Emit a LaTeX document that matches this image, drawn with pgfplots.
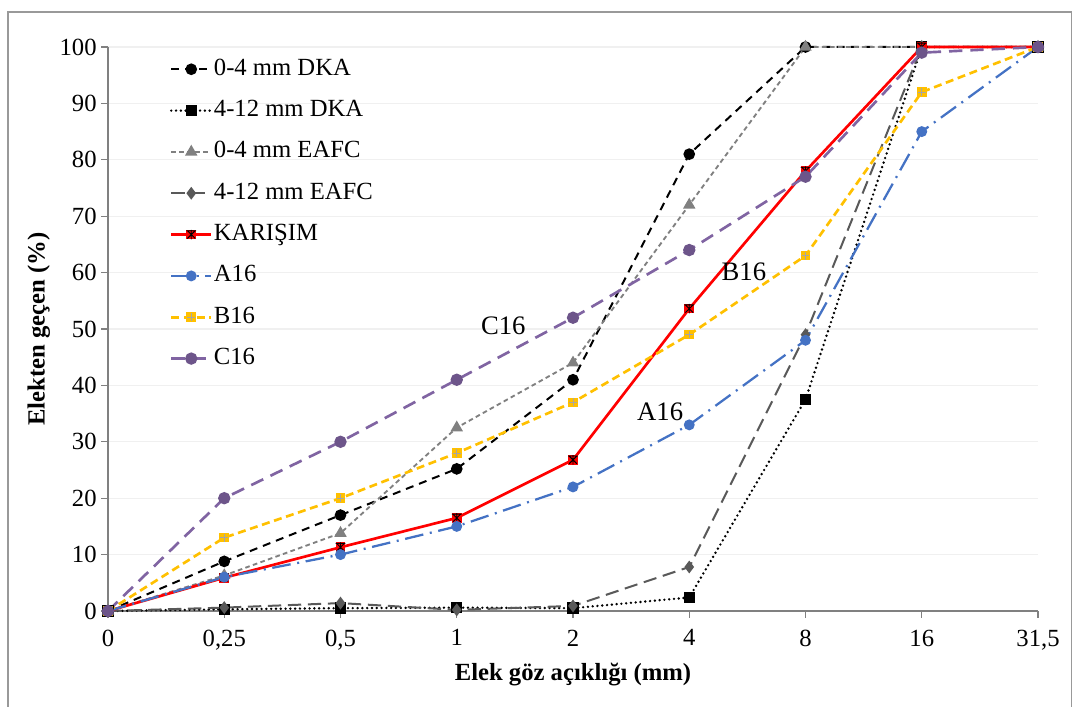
\documentclass[border=0pt]{standalone}
\usepackage{fontspec}
\setmainfont{Liberation Serif}
\usepackage{pgfplots}
\pgfplotsset{compat=1.18}

\definecolor{cblue}{RGB}{68,114,196}
\definecolor{cgold}{RGB}{255,192,0}
\definecolor{cpurple}{RGB}{128,100,162}
\definecolor{cgray}{RGB}{128,128,128}
\definecolor{cdgray}{RGB}{89,89,89}

% red square with a black star (KARISIM)
\pgfdeclareplotmark{sqstar}{%
  \pgfpathrectangle{\pgfqpoint{-\pgfplotmarksize}{-\pgfplotmarksize}}{\pgfqpoint{2\pgfplotmarksize}{2\pgfplotmarksize}}%
  \pgfusepathqfill
  \pgfsetstrokecolor{black}\pgfsetlinewidth{0.7pt}%
  \pgfpathmoveto{\pgfqpoint{-0.8\pgfplotmarksize}{-0.8\pgfplotmarksize}}\pgfpathlineto{\pgfqpoint{0.8\pgfplotmarksize}{0.8\pgfplotmarksize}}%
  \pgfpathmoveto{\pgfqpoint{-0.8\pgfplotmarksize}{0.8\pgfplotmarksize}}\pgfpathlineto{\pgfqpoint{0.8\pgfplotmarksize}{-0.8\pgfplotmarksize}}%
  \pgfpathmoveto{\pgfqpoint{0pt}{-\pgfplotmarksize}}\pgfpathlineto{\pgfqpoint{0pt}{\pgfplotmarksize}}%
  \pgfpathmoveto{\pgfqpoint{-\pgfplotmarksize}{0.8\pgfplotmarksize}}\pgfpathlineto{\pgfqpoint{\pgfplotmarksize}{0.8\pgfplotmarksize}}%
  \pgfusepathqstroke
}
% gold square with a light plus (B16)
\pgfdeclareplotmark{sqplus}{%
  \pgfpathrectangle{\pgfqpoint{-\pgfplotmarksize}{-\pgfplotmarksize}}{\pgfqpoint{2\pgfplotmarksize}{2\pgfplotmarksize}}%
  \pgfusepathqfill
  \pgfsetstrokecolor{gray!70}\pgfsetlinewidth{0.6pt}%
  \pgfpathmoveto{\pgfqpoint{0pt}{-0.8\pgfplotmarksize}}\pgfpathlineto{\pgfqpoint{0pt}{0.8\pgfplotmarksize}}%
  \pgfpathmoveto{\pgfqpoint{-0.8\pgfplotmarksize}{0pt}}\pgfpathlineto{\pgfqpoint{0.8\pgfplotmarksize}{0pt}}%
  \pgfusepathqstroke
}

\begin{document}
\begin{tikzpicture}
\useasboundingbox (-81pt,-71.25pt) rectangle (723.75pt,458.25pt);
\draw[gray!80, line width=0.8pt] (-75pt,-72pt) -- (-75pt,449.25pt) -- (722.5pt,449.25pt) -- (722.5pt,-72pt);
\begin{axis}[
    width=697.5pt, height=423pt, scale only axis,
    xmin=0, xmax=8, ymin=0, ymax=100,
    xtick={0,1,2,3,4,5,6,7,8},
    xticklabels={0,{0,25},{0,5},1,2,4,8,16,{31,5}},
    ytick={0,10,20,30,40,50,60,70,80,90,100},
    axis x line*=bottom, axis y line*=left,
    axis line style={gray, line width=0.8pt, -},
    tick style={gray, line width=0.8pt},
    tick align=outside, major tick length=5pt,
    ymajorgrids, grid style={gray!12, line width=0.8pt},
    tick label style={font=\fontsize{18.5}{20}\selectfont},
    xticklabel style={yshift=-5.5pt},
    /pgf/number format/assume math mode=true,
    xlabel={Elek göz açıklığı (mm)},
    ylabel={Elekten geçen (\%)},
    label style={font=\fontsize{18.5}{20}\selectfont\bfseries},
    xlabel style={at={(axis description cs:0.5,-0.112)}, anchor=center},
    ylabel style={at={(axis description cs:-0.0745,0.5)}, anchor=center},
    clip=false,
    legend cell align=left,
    legend style={draw=none, fill=none, at={(axis description cs:0.062,0.987)}, anchor=north west,
        font=\fontsize{18.5}{20}\selectfont, row sep=13pt,
        nodes={inner sep=1pt, text height=12.5pt, text depth=3.5pt}},
    legend image code/.code={\draw[mark repeat=2,mark phase=2] plot coordinates {(0pt,0pt) (15pt,0pt) (30pt,0pt)};},
]
\addplot[black, line width=1.5pt, dash pattern=on 6pt off 4.5pt, mark=*, mark size=3.6pt, mark options={solid}]
  coordinates {(0,0) (1,8.8) (2,17) (3,25.2) (4,41) (5,81) (6,100) (7,100) (8,100)};
\addlegendentry{0-4 mm DKA}
\addplot[black, line width=2pt, line cap=round, dash pattern=on 0pt off 3.6pt, mark=square*, mark size=3.3pt, mark options={solid}]
  coordinates {(0,0) (1,0.3) (2,0.5) (3,0.6) (4,0.5) (5,2.4) (6,37.5) (7,100) (8,100)};
\addlegendentry{4-12 mm DKA}
\addplot[cgray, line width=1.4pt, dash pattern=on 3.5pt off 2.5pt, mark=triangle*, mark size=4pt, mark options={solid}]
  coordinates {(0,0) (1,6.3) (2,13.8) (3,32.5) (4,44) (5,72) (6,100) (7,100) (8,100)};
\addlegendentry{0-4 mm EAFC}
\addplot[cdgray, line width=1.5pt, dash pattern=on 10pt off 5pt, mark=diamond*, mark size=3.6pt, mark options={solid}]
  coordinates {(0,0) (1,0.6) (2,1.4) (3,0.2) (4,0.9) (5,7.8) (6,49) (7,100) (8,100)};
\addlegendentry{4-12 mm EAFC}
\addplot[red, line width=2pt, mark=sqstar, mark size=3.6pt, mark options={solid, fill=red}]
  coordinates {(0,0) (1,5.9) (2,11.3) (3,16.5) (4,26.8) (5,53.6) (6,78) (7,100) (8,100)};
\addlegendentry{KARIŞIM}
\addplot[cblue, line width=1.7pt, dash pattern=on 14pt off 5pt on 1.5pt off 5pt, mark=*, mark size=3.2pt, mark options={solid}]
  coordinates {(0,0) (1,6) (2,10) (3,15) (4,22) (5,33) (6,48) (7,85) (8,100)};
\addlegendentry{A16}
\addplot[cgold, line width=2pt, dash pattern=on 6pt off 3.5pt, mark=sqplus, mark size=3.6pt, mark options={solid, fill=cgold}]
  coordinates {(0,0) (1,13) (2,20) (3,28) (4,37) (5,49) (6,63) (7,92) (8,100)};
\addlegendentry{B16}
\addplot[cpurple, line width=2pt, dash pattern=on 10pt off 6pt, mark=*, mark size=3.6pt, mark options={solid, fill=cpurple!85!black, draw=cpurple!85!black}]
  coordinates {(0,0) (1,20) (2,30) (3,41) (4,52) (5,64) (6,77) (7,99) (8,100)};
\addlegendentry{C16}
\node[font=\fontsize{20}{22}\selectfont] at (axis cs:3.4,50.5) {C16};
\node[font=\fontsize{20}{22}\selectfont] at (axis cs:5.47,60.2) {B16};
\node[font=\fontsize{20}{22}\selectfont] at (axis cs:4.75,35.3) {A16};
\end{axis}
\end{tikzpicture}
\end{document}
